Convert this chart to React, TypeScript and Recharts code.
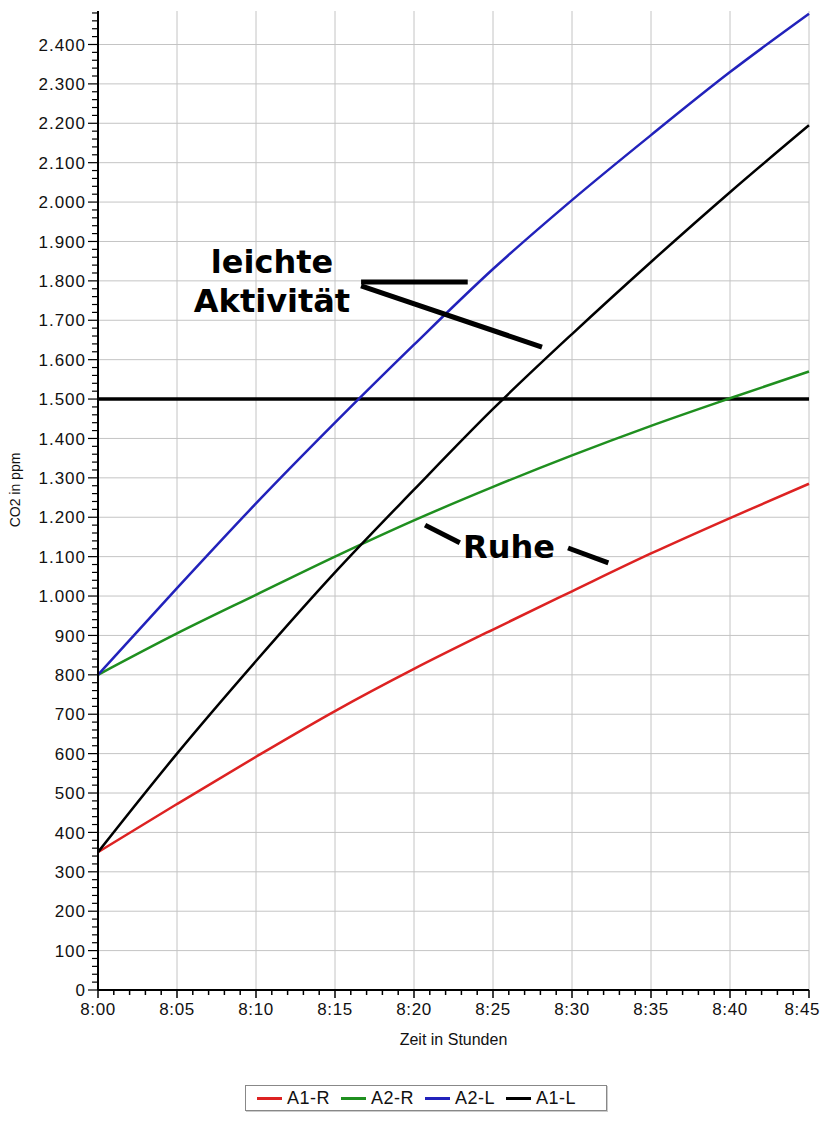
import React from "react";
import {
  LineChart,
  Line,
  XAxis,
  YAxis,
  CartesianGrid,
  ReferenceLine,
} from "recharts";

// time in minutes after 8:00
const minutes = [0, 5, 10, 15, 20, 25, 30, 35, 40, 45];
const a1R = [350, 472, 592, 708, 815, 915, 1012, 1108, 1198, 1285];
const a2R = [800, 905, 1003, 1100, 1192, 1277, 1357, 1432, 1502, 1570];
const a2L = [800, 1020, 1235, 1440, 1638, 1830, 2005, 2170, 2330, 2478];
const a1L = [350, 600, 835, 1060, 1270, 1475, 1665, 1848, 2025, 2195];

const xMajorTicks = [0, 5, 10, 15, 20, 25, 30, 35, 40, 45];
const xAllTicks = Array.from({ length: 46 }, (_, i) => i);
const yMajorTicks = Array.from({ length: 25 }, (_, i) => i * 100);
const yAllTicks = Array.from({ length: 125 }, (_, i) => i * 20);
const yMax = 2485;
const limit = 1500;

const series = [
  { key: "a1R", name: "A1-R", color: "#dd2222", values: a1R },
  { key: "a2R", name: "A2-R", color: "#1f8f1f", values: a2R },
  { key: "a2L", name: "A2-L", color: "#2222bb", values: a2L },
  { key: "a1L", name: "A1-L", color: "#000000", values: a1L },
];

// annotation pointer segments in data coordinates (minutes, ppm)
const pointers = [
  [{ x: 16.65, y: 1797 }, { x: 23.4, y: 1797 }],
  [{ x: 16.65, y: 1787 }, { x: 28.1, y: 1632 }],
  [{ x: 20.7, y: 1180 }, { x: 22.9, y: 1135 }],
  [{ x: 29.75, y: 1122 }, { x: 32.3, y: 1084 }],
];

const data = minutes.map((m, i) => {
  const row: any = { t: m };
  series.forEach((s) => (row[s.key] = s.values[i]));
  return row;
});

const fmtTime = (m: number) => `8:${m < 10 ? "0" + m : m}`;
const fmtY = (v: number) =>
  v >= 1000 ? `${Math.floor(v / 1000)}.${String(v % 1000).padStart(3, "0")}` : `${v}`;

const FONT = "'Liberation Sans', Arial, sans-serif";
const lastMinute = xMajorTicks[xMajorTicks.length - 1];

const XTick = (props: any) => {
  const { x, y, payload } = props;
  const v = payload.value;
  const major = v % 5 === 0;
  const isLast = v === lastMinute;
  return (
    <g>
      <line x1={x} x2={x} y1={y} y2={y + (major ? 8 : 5)} stroke="#000" strokeWidth={1.5} />
      {major && (
        <text
          x={isLast ? x + 11 : x}
          y={y + 13}
          dy="0.72em"
          textAnchor={isLast ? "end" : "middle"}
          fontFamily={FONT}
          fontSize={17}
          letterSpacing={0.6}
          fill="#111"
        >
          {fmtTime(v)}
        </text>
      )}
    </g>
  );
};

const YTick = (props: any) => {
  const { x, y, payload } = props;
  const v = payload.value;
  const major = v % 100 === 0;
  return (
    <g>
      <line x1={x - (major ? 10 : 6)} x2={x} y1={y} y2={y} stroke="#000" strokeWidth={1.2} />
      {major && (
        <text
          x={x - 12}
          y={y}
          dy="0.36em"
          textAnchor="end"
          fontFamily={FONT}
          fontSize={17}
          letterSpacing={1}
          fill="#111"
        >
          {fmtY(v)}
        </text>
      )}
    </g>
  );
};

const annoFont: React.CSSProperties = {
  position: "absolute",
  fontFamily: "'DejaVu Sans', Verdana, sans-serif",
  fontWeight: "bold",
  fontSize: 32,
  color: "#000",
  lineHeight: "39px",
  whiteSpace: "nowrap",
};

export default function App() {
  return (
    <div style={{ position: "relative", width: 812, height: 1104 }}>
      <LineChart
        width={812}
        height={1060}
        data={data}
        margin={{ top: 3, right: 11, bottom: 18, left: 30 }}
      >
        <CartesianGrid
          stroke="#c4c4c4"
          strokeWidth={1}
          horizontalValues={yMajorTicks}
          verticalValues={xMajorTicks}
        />
        <XAxis
          dataKey="t"
          type="number"
          domain={[0, 45]}
          ticks={xAllTicks}
          tick={<XTick />}
          tickSize={0}
          tickMargin={0}
          height={60}
          axisLine={{ stroke: "#000", strokeWidth: 2 }}
          tickLine={false}
          interval={0}
          label={{
            value: "Zeit in Stunden",
            position: "insideBottom",
            offset: 5,
            style: { fontFamily: FONT, fontSize: 16, fill: "#111" },
          }}
        />
        <XAxis
          xAxisId="top"
          orientation="top"
          dataKey="t"
          type="number"
          domain={[0, 45]}
          ticks={[]}
          height={0}
          axisLine={{ stroke: "#333", strokeWidth: 1.5 }}
          tick={false}
          tickLine={false}
        />
        <YAxis
          type="number"
          domain={[0, yMax]}
          ticks={yAllTicks}
          tick={<YTick />}
          tickSize={0}
          tickMargin={0}
          width={60}
          interval={0}
          axisLine={{ stroke: "#000", strokeWidth: 2 }}
          tickLine={false}
        />
        <YAxis
          yAxisId="right"
          orientation="right"
          type="number"
          domain={[0, yMax]}
          ticks={[]}
          width={0}
          axisLine={{ stroke: "#111", strokeWidth: 1.5 }}
          tick={false}
          tickLine={false}
        />
        <ReferenceLine y={limit} stroke="#000" strokeWidth={3.5} />
        {series.map((s) => (
          <Line
            key={s.key}
            dataKey={s.key}
            name={s.name}
            type="monotone"
            stroke={s.color}
            strokeWidth={2.5}
            dot={false}
            isAnimationActive={false}
          />
        ))}
        {pointers.map((seg, i) => (
          <ReferenceLine
            key={i}
            segment={seg}
            stroke="#000"
            strokeWidth={5}
            ifOverflow="visible"
          />
        ))}
      </LineChart>

      {/* y axis title */}
      <div
        style={{
          position: "absolute",
          left: 7,
          top: 482,
          transform: "translate(-50%, -50%) rotate(-90deg)",
          fontFamily: FONT,
          fontSize: 14,
          color: "#111",
          whiteSpace: "nowrap",
        }}
      >
        CO2 in ppm
      </div>

      {/* annotations */}
      <div style={{ ...annoFont, left: 264, top: 235, transform: "translateX(-50%)", textAlign: "center" }}>
        leichte
        <br />
        Aktivität
      </div>
      <div style={{ ...annoFont, left: 455, top: 520 }}>Ruhe</div>

      {/* legend */}
      <div
        style={{
          position: "absolute",
          left: 237,
          top: 1077,
          width: 362,
          height: 26,
          border: "1px solid #888",
          boxShadow: "1px 1px 0 #ccc",
          background: "#fff",
          display: "flex",
          alignItems: "center",
          fontFamily: FONT,
          fontSize: 18,
          color: "#111",
          boxSizing: "border-box",
          paddingLeft: 11,
        }}
      >
        {series.map((s) => (
          <div key={s.key} style={{ display: "flex", alignItems: "center", marginRight: 11 }}>
            <div style={{ width: 25, height: 3, background: s.color, marginRight: 5 }} />
            <span style={{ letterSpacing: 0.5 }}>{s.name}</span>
          </div>
        ))}
      </div>
    </div>
  );
}
